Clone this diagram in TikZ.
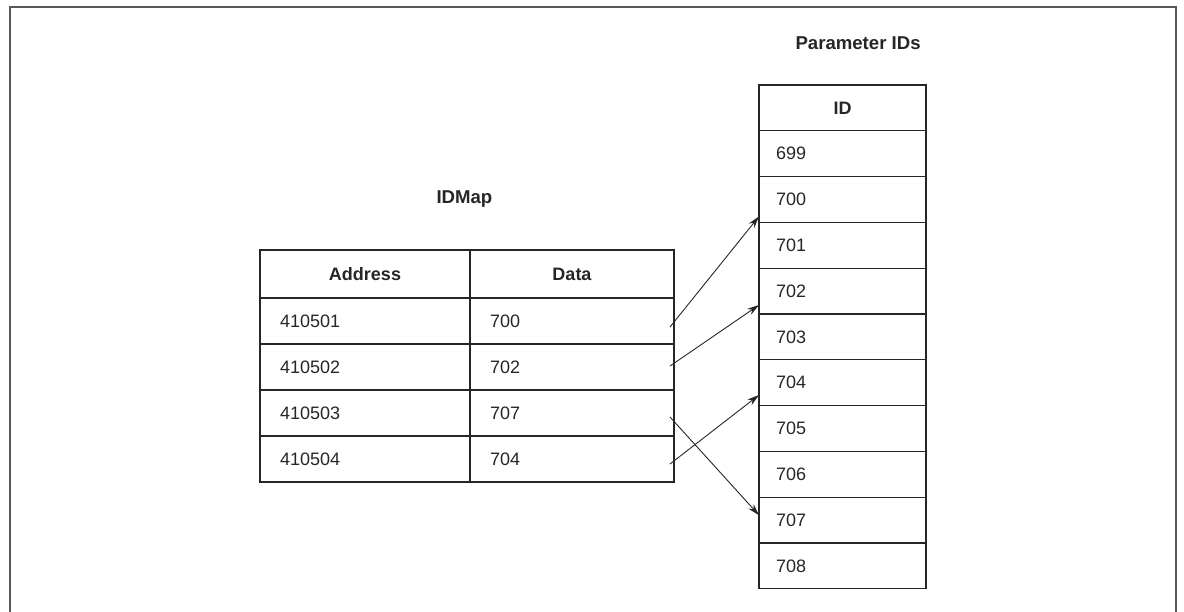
\documentclass[tikz,border=0pt]{standalone}
\usepackage{fontspec}
\setmainfont{Liberation Sans}
\usetikzlibrary{arrows.meta}
\begin{document}
\begin{tikzpicture}[x=1pt,y=-1pt,
  every node/.style={font=\fontsize{18}{21}\selectfont, text=black!85},
  cell/.style={draw=black!85, line width=1.2pt, anchor=north west, outer sep=0pt, inner ysep=0pt, align=left},
  colA/.style={cell, text width=170pt, inner xsep=20pt, minimum height=46pt},
  colB/.style={cell, text width=164pt, inner xsep=20pt, minimum height=46pt},
  colID/.style={cell, text width=133pt, inner xsep=17pt, minimum height=45.8pt},
  hdr/.style={align=center, font=\fontsize{18}{21}\selectfont\bfseries},
  title/.style={anchor=base west, font=\fontsize{18.6}{22}\selectfont\bfseries},
  arr/.style={draw=black!85, line width=0.9pt, -{Stealth[length=12pt,width=7pt]}},
  frame/.style={draw=black!65, line width=1.6pt}
]
\useasboundingbox (0,0) rectangle (1184,611);
\coordinate (fbl) at (10,612);
\coordinate (ftl) at (10,7);
\coordinate (ftr) at (1176,7);
\coordinate (fbr) at (1176,612);
\draw[frame] (fbl) -- (ftl) -- (ftr) -- (fbr);

% titles
\node[title] (tIDMap) at (433,203) {IDMap};
\node[title] (tParam) at (792,49) {Parameter IDs};

% left table
\node[colA, hdr, minimum height=48pt] (hA) at (260,250) {Address};
\node[colB, hdr, minimum height=48pt] (hB) at (470,250) {Data};
\node[colA] (a1) at (260,298) {410501};
\node[colB] (d1) at (470,298) {700};
\node[colA] (a2) at (260,344) {410502};
\node[colB] (d2) at (470,344) {702};
\node[colA] (a3) at (260,390) {410503};
\node[colB] (d3) at (470,390) {707};
\node[colA] (a4) at (260,436) {410504};
\node[colB] (d4) at (470,436) {704};

% right table
\node[colID, hdr] (hID) at (759,85) {ID};
\node[colID] (r699) at (759,130.8) {699};
\node[colID] (r700) at (759,176.6) {700};
\node[colID] (r701) at (759,222.4) {701};
\node[colID] (r702) at (759,268.2) {702};
\node[colID] (r703) at (759,314.0) {703};
\node[colID] (r704) at (759,359.8) {704};
\node[colID] (r705) at (759,405.6) {705};
\node[colID] (r706) at (759,451.4) {706};
\node[colID] (r707) at (759,497.2) {707};
\node[colID] (r708) at (759,543.0) {708};

% connectors
\draw[arr] ([xshift=-4pt,yshift=-6pt]d1.east) -- ([yshift=6pt]r700.south west);
\draw[arr] ([xshift=-4pt,yshift=1pt]d2.east) -- ([yshift=9pt]r702.south west);
\draw[arr] ([xshift=-4pt,yshift=-4pt]d3.east) -- ([yshift=-18pt]r707.north west);
\draw[arr] ([xshift=-4pt,yshift=-5pt]d4.east) -- ([yshift=10.6pt]r704.south west);
\end{tikzpicture}
\end{document}
